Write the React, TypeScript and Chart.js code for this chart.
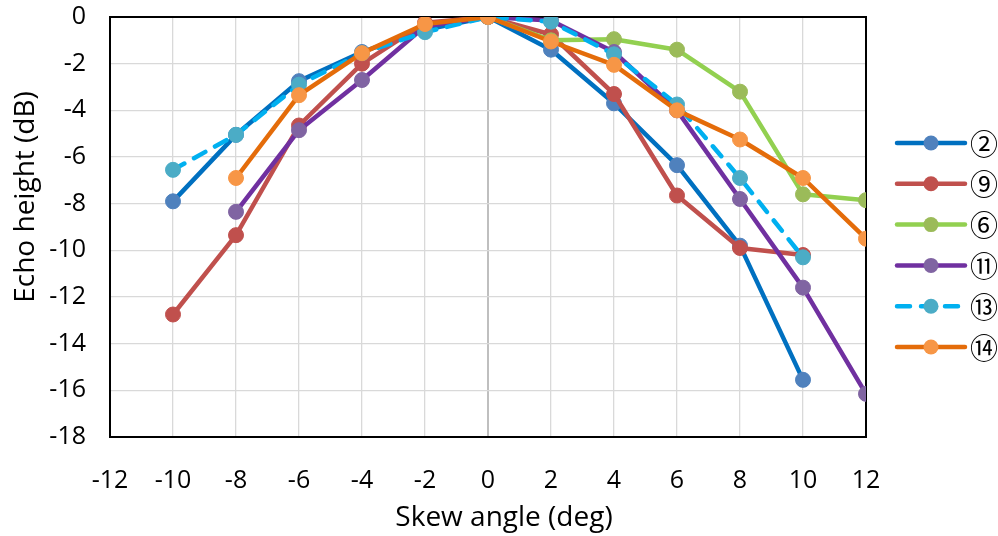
import React, { useEffect, useRef } from "react";
import { Chart, registerables } from "chart.js";

Chart.register(...registerables);

const angles = [-10, -8, -6, -4, -2, 0, 2, 4, 6, 8, 10, 12];
const seriesNames = ["②", "⑨", "⑥", "⑪", "⑬", "⑭"];
const s2 = [-7.9, -5.05, -2.75, -1.5, -0.55, 0, -1.4, -3.7, -6.35, -9.8, -15.55, null];
const s9 = [-12.75, -9.35, -4.65, -2.0, -0.25, 0, -0.75, -3.3, -7.65, -9.9, -10.2, null];
const s6 = [null, null, null, null, null, 0, -1.0, -0.95, -1.4, -3.2, -7.6, -7.85];
const s11 = [null, -8.35, -4.85, -2.7, -0.4, 0, -0.15, -1.5, -4.0, -7.8, -11.6, -16.15];
const s13 = [-6.55, -5.05, -2.9, -1.55, -0.65, 0, -0.2, -1.6, -3.75, -6.9, -10.3, null];
const s14 = [null, -6.9, -3.35, -1.55, -0.3, 0, -1.05, -2.05, -4.0, -5.25, -6.9, -9.5];
const seriesValues = [s2, s9, s6, s11, s13, s14];

const xTitle = "Skew angle (deg)";
const yTitle = "Echo height (dB)";

const lineColors = ["#0070C0", "#C0504D", "#92D050", "#7030A0", "#00B0F0", "#E46C0A"];
const markerColors = ["#4F81BD", "#C0504D", "#9BBB59", "#8064A2", "#4BACC6", "#F79646"];
const dashed = [false, false, false, false, true, false];

const FONT = '"Open Sans", "Liberation Sans", sans-serif';

const extrasPlugin = {
  id: "extras",
  beforeDatasetsDraw(chart: any) {
    const { ctx, chartArea } = chart;
    ctx.save();
    ctx.strokeStyle = "#000";
    ctx.lineWidth = 2;
    ctx.strokeRect(chartArea.left, chartArea.top, chartArea.right - chartArea.left, chartArea.bottom - chartArea.top);
    ctx.restore();
  },
  afterDraw(chart: any) {
    const { ctx } = chart;
    ctx.save();
    ctx.fillStyle = "#000";
    ctx.font = `28px ${FONT}`;
    ctx.textAlign = "center";
    ctx.textBaseline = "middle";
    ctx.fillText(xTitle, 504, 518);
    ctx.save();
    ctx.translate(26, 197);
    ctx.rotate(-Math.PI / 2);
    ctx.fillText(yTitle, 0, 0);
    ctx.restore();

    // legend
    for (let i = 0; i < seriesNames.length; i++) {
      const y = 143 + i * 40.8;
      ctx.save();
      ctx.strokeStyle = lineColors[i];
      ctx.lineWidth = 4.5;
      ctx.lineCap = "round";
      if (dashed[i]) ctx.setLineDash([13, 11]);
      ctx.beginPath();
      ctx.moveTo(897, y);
      ctx.lineTo(965, y);
      ctx.stroke();
      ctx.restore();
      ctx.beginPath();
      ctx.fillStyle = markerColors[i];
      ctx.arc(931, y, 7.5, 0, Math.PI * 2);
      ctx.fill();
      ctx.fillStyle = "#000";
      ctx.font = `28px "Noto Sans CJK JP", "DejaVu Sans", sans-serif`;
      ctx.textAlign = "left";
      ctx.textBaseline = "middle";
      ctx.fillText(seriesNames[i], 970, y + 1);
    }
    ctx.restore();
  },
};

export default function App() {
  const ref = useRef<HTMLCanvasElement | null>(null);
  useEffect(() => {
    if (!ref.current) return;
    const datasets = seriesValues.map((vals, i) => ({
      label: seriesNames[i],
      data: angles.map((a, j) => ({ x: a, y: vals[j] })),
      borderColor: lineColors[i],
      backgroundColor: markerColors[i],
      borderWidth: 4.5,
      borderDash: dashed[i] ? [13, 11] : [],
      borderCapStyle: "round" as const,
      borderJoinStyle: "round" as const,
      pointRadius: 7.5,
      pointBackgroundColor: markerColors[i],
      pointBorderColor: markerColors[i],
      pointBorderWidth: 1,
      tension: 0,
      order: seriesNames.length - i,
    }));
    const chart = new Chart(ref.current, {
      type: "line",
      data: { datasets },
      plugins: [extrasPlugin],
      options: {
        animation: false,
        responsive: false,
        layout: { padding: { left: 0, top: 17, right: 132, bottom: 0 } },
        plugins: { legend: { display: false }, tooltip: { enabled: false } },
        scales: {
          x: {
            type: "linear",
            min: -12,
            max: 12,
            afterFit: (s: any) => {
              s.height = 99;
              s.paddingLeft = 0;
              s.paddingRight = 0;
            },
            ticks: {
              stepSize: 2,
              color: "#000",
              font: { family: FONT, size: 25 },
              padding: 29,
              maxRotation: 0,
              autoSkip: false,
            },
            grid: {
              drawTicks: false,
              color: (c: any) => (c.tick && c.tick.value === 0 ? "#BFBFBF" : "#D9D9D9"),
              lineWidth: (c: any) => (c.tick && c.tick.value === 0 ? 2 : 1.3),
            },
            border: { display: false },
          },
          y: {
            type: "linear",
            min: -18,
            max: 0,
            afterFit: (s: any) => {
              s.width = 110;
              s.paddingTop = 0;
              s.paddingBottom = 0;
            },
            ticks: {
              stepSize: 2,
              color: "#000",
              font: { family: FONT, size: 25 },
              padding: 24,
            },
            grid: { drawTicks: false, color: "#D9D9D9", lineWidth: 1.3 },
            border: { display: false },
          },
        },
      },
    });
    return () => chart.destroy();
  }, []);
  return (
    <div style={{ position: "fixed", left: 0, top: 0, width: 998, height: 536, background: "#fff" }}>
      <canvas ref={ref} width={998} height={536} style={{ display: "block" }} />
    </div>
  );
}
